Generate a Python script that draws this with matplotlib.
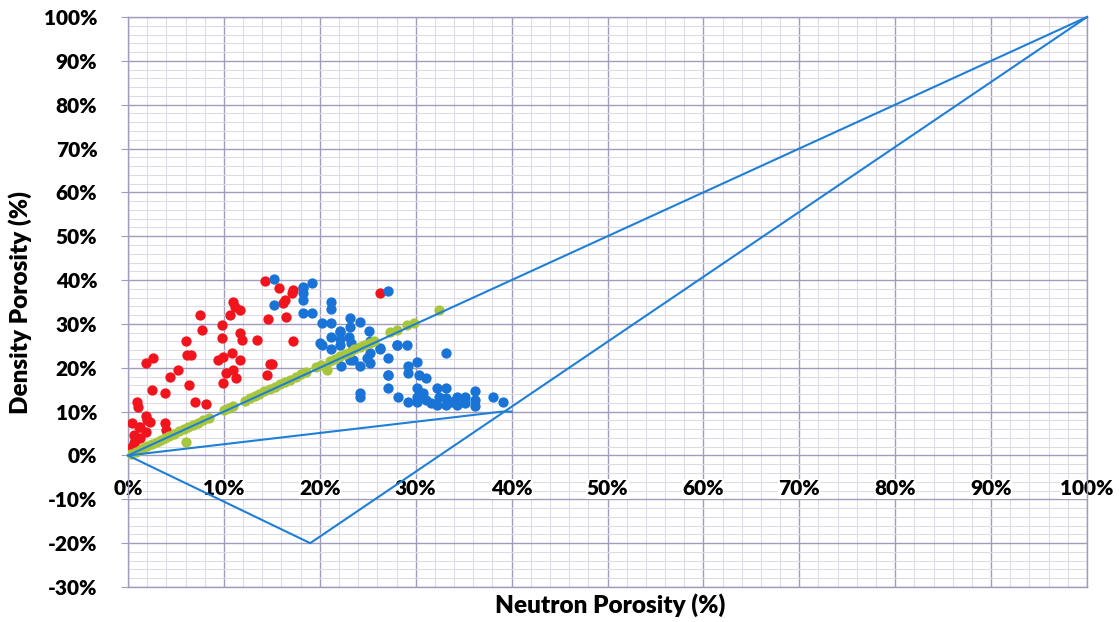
import matplotlib
matplotlib.use("Agg")
import matplotlib.pyplot as plt
from matplotlib.ticker import MultipleLocator, FuncFormatter

plt.rcParams['font.family'] = ['Lato', 'DejaVu Sans']
plt.rcParams['font.weight'] = 'heavy'

# neutron porosity (x) / density porosity (y), percent
red_x = [14.3, 15.7, 17.2, 17.1, 16.4, 16.2, 14.6, 16.5, 17.2, 7.5, 7.7, 11.0, 11.2, 10.6,
         11.7, 9.8, 9.8, 11.7, 11.9, 13.4, 6.0, 6.2, 6.6, 5.2, 4.4, 6.4, 2.5, 3.9, 1.9, 2.6,
         9.4, 9.9, 10.8, 11.7, 10.2, 10.9, 11.3, 9.9, 14.8, 14.5, 7.0, 8.1, 0.9, 1.0, 1.9,
         2.3, 0.4, 1.1, 1.9, 3.9, 4.0, 0.6, 1.3, 0.6, 0.4, 0.7, 1.25, 26.3, 15.0, 2.0]
red_y = [39.9, 38.1, 37.7, 37.0, 35.5, 34.7, 31.1, 31.5, 26.0, 32.0, 28.6, 35.1, 33.9, 32.0,
         33.2, 29.8, 26.7, 27.9, 26.3, 26.3, 26.0, 22.8, 22.8, 19.5, 18.0, 16.1, 14.9, 14.2, 21.2, 22.2,
         21.8, 22.5, 23.4, 21.8, 18.7, 19.5, 17.6, 16.5, 20.9, 18.4, 12.3, 11.7, 12.3, 11.1, 8.9,
         7.7, 7.3, 6.6, 5.4, 7.3, 5.8, 4.7, 3.9, 2.8, 2.0, 3.5, 6.6, 37.0, 20.9, 8.2]

blue_x = [15.2, 19.2, 18.3, 18.2, 18.2, 15.2, 18.3, 19.2, 21.2, 21.2, 20.2, 21.2, 23.1, 24.2,
          23.1, 25.1, 22.1, 21.2, 22.1, 23.0, 23.3, 20.2, 21.2, 22.1, 25.2, 26.3, 25.2, 24.9,
          23.1, 22.2, 24.2, 25.2, 28.1, 29.1, 33.2, 27.1, 30.1, 29.2, 29.2, 30.3, 31.1, 27.1,
          27.1, 24.2, 24.2, 28.2, 29.2, 30.1, 30.1, 30.8, 30.1, 31.1, 32.2, 33.2, 32.4, 33.2,
          32.2, 33.2, 34.3, 34.3, 35.1, 35.1, 36.2, 36.2, 36.2, 38.1, 39.1, 27.1, 18.3, 22.1,
          23.5, 27.1, 31.6, 33.8, 20.0, 26.3, 28.0]
blue_y = [40.2, 39.3, 38.1, 37.0, 35.5, 34.3, 32.4, 32.4, 35.1, 33.3, 30.3, 30.3, 31.3, 30.5,
          29.4, 28.5, 28.5, 27.1, 26.5, 27.1, 25.6, 25.2, 24.2, 25.2, 26.0, 24.2, 23.3, 22.2,
          21.8, 20.3, 20.3, 21.0, 25.2, 25.2, 23.3, 22.2, 21.4, 20.3, 18.7, 18.4, 17.6, 18.4,
          15.5, 14.3, 13.4, 13.4, 12.3, 15.3, 13.4, 14.2, 12.3, 12.7, 15.3, 15.3, 13.4, 13.0,
          11.5, 11.5, 13.4, 11.5, 13.4, 11.9, 14.6, 12.7, 11.3, 13.4, 12.3, 37.4, 38.4, 28.2,
          21.8, 18.4, 12.0, 12.2, 25.6, 24.4, 25.2]

green_x = [0.3, 0.8, 1.2, 1.6, 2.0, 2.5, 3.0, 3.4, 3.9, 4.3, 4.8, 5.3, 5.8, 6.3, 6.8, 7.3,
           7.8, 8.4, 10.0, 10.5, 11.0, 12.2, 12.7, 13.2, 13.7, 14.2, 14.8, 15.3, 15.9, 16.4,
           16.9, 17.5, 18.0, 18.6, 19.6, 20.1, 20.7, 21.1, 21.6, 22.1, 22.6, 23.1, 23.6, 24.2,
           24.6, 25.2, 25.6, 27.3, 28.0, 29.1, 29.8, 32.4, 6.1]
green_y = [0.3, 0.9, 1.3, 1.7, 2.2, 2.6, 3.1, 3.5, 4.0, 4.5, 5.0, 5.5, 6.0, 6.5, 7.0, 7.5,
           8.0, 8.6, 10.3, 10.9, 11.2, 12.5, 13.1, 13.6, 14.1, 14.6, 15.2, 15.7, 16.3, 16.8,
           17.3, 17.9, 18.5, 19.1, 20.1, 20.6, 19.5, 21.5, 22.0, 22.6, 23.1, 23.7, 24.2, 24.8,
           25.2, 25.7, 26.1, 28.2, 28.6, 29.7, 30.1, 33.1, 3.1]

# overlay lines
line_a_x = [0, 100]
line_a_y = [0, 100]
line_b_x = [0, 19, 100]
line_b_y = [0, -20, 100]
line_c_x = [0, 39, 40]
line_c_y = [0, 10, 10]

x_ticks = [0, 10, 20, 30, 40, 50, 60, 70, 80, 90, 100]

fig = plt.figure(figsize=(11.2, 6.22), dpi=100)
ax = fig.add_axes([128 / 1120, 1 - 587 / 622, (1087 - 128) / 1120, 570 / 622])

major_c = '#a09cbc'
minor_c = '#dcdbe6'

ax.set_xlim(0, 100)
ax.set_ylim(-30, 100)
ax.set_xticks(x_ticks)
ax.xaxis.set_minor_locator(MultipleLocator(2))
ax.yaxis.set_major_locator(MultipleLocator(10))
ax.yaxis.set_minor_locator(MultipleLocator(2))
ax.grid(which='major', color=major_c, lw=1.0, zorder=0)
ax.grid(which='minor', color=minor_c, lw=0.8, zorder=0)
ax.set_axisbelow(True)

pct = FuncFormatter(lambda v, p: '%d%%' % round(v))
ax.yaxis.set_major_formatter(pct)

for s in ax.spines.values():
    s.set_color(major_c)
    s.set_linewidth(1.0)

ax.tick_params(axis='y', which='major', length=5, color=major_c, pad=17, labelsize=15)
ax.tick_params(axis='x', which='major', length=0, labelbottom=False)
ax.tick_params(which='minor', length=0)

# x labels sit under the 0% line, on a white patch over the grid
for v in x_ticks:
    ax.annotate('%d%%' % v, xy=(v, 0), xytext=(0, -24), textcoords='offset points',
                ha='center', va='center', fontsize=15, zorder=2,
                bbox=dict(facecolor='white', edgecolor='none', pad=0.2),
                annotation_clip=False)

ax.scatter(red_x, red_y, s=55, color='#f2141c', zorder=3, linewidths=0)
ax.scatter(blue_x, blue_y, s=55, color='#1a74d8', zorder=3, linewidths=0)
ax.scatter(green_x, green_y, s=55, color='#a8c63c', zorder=3, linewidths=0)

for lx, ly in [(line_a_x, line_a_y), (line_b_x, line_b_y), (line_c_x, line_c_y)]:
    ax.plot(lx, ly, color='#1f7fd6', lw=1.5, zorder=4, clip_on=False)

fig.text(20 / 1120, 1 - 302 / 622, 'Density Porosity (%)', rotation=90,
         ha='center', va='center', fontsize=17.5)
fig.text(610 / 1120, 1 - 605 / 622, 'Neutron Porosity (%)',
         ha='center', va='center', fontsize=17.5)

fig.savefig('out.png', dpi=100)
